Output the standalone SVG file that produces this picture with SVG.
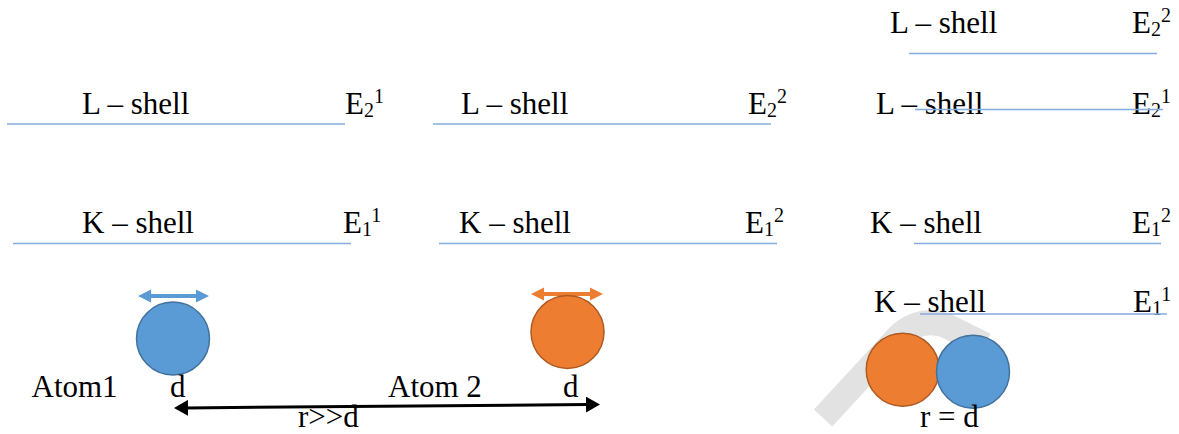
<svg xmlns="http://www.w3.org/2000/svg" width="1179" height="434" viewBox="0 0 1179 434">
  <defs>
    <style>
      text { font-family: "Liberation Serif", "Times New Roman", serif; font-size: 31px; fill: #000; }
      .s { font-size: 20px; }
      .lvl { stroke: #84acdc; stroke-width: 1.5; fill: none; }
      .blue { fill: #5b9bd5; stroke: #41719c; stroke-width: 1.5; }
      .orange { fill: #ed7d31; stroke: #ae5a21; stroke-width: 1.5; }
      .conn { stroke: #000; stroke-width: 3; fill: none; }
    </style>
    <marker id="ah" viewBox="0 0 14 16" refX="2" refY="8" markerWidth="14" markerHeight="16" markerUnits="userSpaceOnUse" orient="auto-start-reverse">
      <path d="M0 0 L14 8 L0 16 Z" fill="#000"/>
    </marker>
  </defs>
  <rect width="1179" height="434" fill="#fff"/>

  <!-- watermark -->
  <path d="M 823 418 L 897 338 Q 917 317 945 325 L 985 345" fill="none" stroke="#e2e2e2" stroke-width="25"/>

  <!-- Atom 1 energy levels -->
  <g id="atom1-levels">
    <text x="82" y="114">L – shell</text>
    <text x="345" y="114">E<tspan class="s" dy="3">2</tspan><tspan class="s" dy="-14">1</tspan></text>
    <line class="lvl" x1="7" y1="124" x2="345" y2="124"/>
    <text x="82" y="233">K – shell</text>
    <text x="343" y="233">E<tspan class="s" dy="3">1</tspan><tspan class="s" dy="-14">1</tspan></text>
    <line class="lvl" x1="13" y1="243.5" x2="351" y2="243.5"/>
  </g>

  <!-- Atom 2 energy levels -->
  <g id="atom2-levels">
    <text x="461" y="114">L – shell</text>
    <text x="748" y="114">E<tspan class="s" dy="3">2</tspan><tspan class="s" dy="-14">2</tspan></text>
    <line class="lvl" x1="433" y1="124" x2="771" y2="124"/>
    <text x="459" y="233">K – shell</text>
    <text x="745" y="233">E<tspan class="s" dy="3">1</tspan><tspan class="s" dy="-14">2</tspan></text>
    <line class="lvl" x1="439" y1="243.5" x2="777" y2="243.5"/>
  </g>

  <!-- Combined energy levels -->
  <g id="combined-levels">
    <text x="890" y="33">L – shell</text>
    <text x="1132" y="33">E<tspan class="s" dy="3">2</tspan><tspan class="s" dy="-14">2</tspan></text>
    <line class="lvl" x1="909" y1="53.5" x2="1157" y2="53.5"/>
    <text x="876" y="114">L – shell</text>
    <text x="1132" y="114">E<tspan class="s" dy="3">2</tspan><tspan class="s" dy="-14">1</tspan></text>
    <line class="lvl" x1="915" y1="109.5" x2="1163" y2="109.5"/>
    <text x="870" y="233">K – shell</text>
    <text x="1132" y="233">E<tspan class="s" dy="3">1</tspan><tspan class="s" dy="-14">2</tspan></text>
    <line class="lvl" x1="914" y1="243.5" x2="1161" y2="243.5"/>
    <text x="874" y="311.5">K – shell</text>
    <text x="1133" y="311.5">E<tspan class="s" dy="3">1</tspan><tspan class="s" dy="-14">1</tspan></text>
    <line class="lvl" x1="920" y1="314" x2="1167" y2="314"/>
  </g>

  <!-- Atom 1 -->
  <g id="atom1">
    <polygon points="138,296 151,289.5 151,294 196,294 196,289.5 209,296 196,302.5 196,298 151,298 151,302.5" fill="#5b9bd5"/>
    <circle class="blue" cx="173" cy="338.5" r="36.5"/>
    <text x="31.5" y="397">Atom1</text>
    <text x="170" y="397">d</text>
  </g>

  <!-- Atom 2 -->
  <g id="atom2">
    <polygon points="531,294 544,287.5 544,292 590,292 590,287.5 603,294 590,300.5 590,296 544,296 544,300.5" fill="#ed7d31"/>
    <circle class="orange" cx="567.5" cy="332" r="36.5"/>
    <text x="388" y="397">Atom 2</text>
    <text x="563" y="397">d</text>
  </g>

  <!-- Bonded atoms -->
  <g id="bonded">
    <circle class="orange" cx="902.7" cy="369.7" r="36.5"/>
    <circle class="blue" cx="973" cy="371.7" r="36.5"/>
    <text x="920" y="427">r = d</text>
  </g>

  <!-- Connectors -->
  <g id="connectors">
    <path class="conn" d="M 186 407.9 L 588 404.6" marker-start="url(#ah)" marker-end="url(#ah)"/>
    <text x="298" y="427">r&gt;&gt;d</text>
  </g>
</svg>
